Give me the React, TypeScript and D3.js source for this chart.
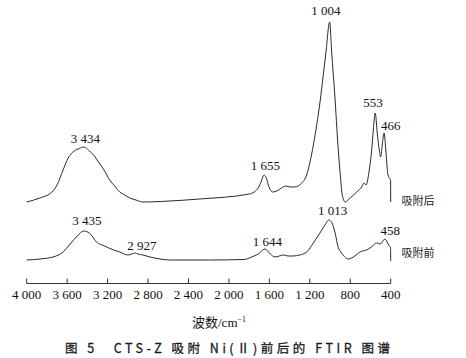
import React from "react";
import * as d3 from "d3";

// Wavenumber (cm^-1) and relative intensity (a.u., offset stacked)
const afterWn = [4000,3870,3750,3700,3640,3590,3530,3480,3434,3400,3370,3330,3290,3235,3180,3130,3080,3030,2980,2920,2850,2680,2290,1800,1750,1705,1675,1655,1630,1610,1590,1565,1527,1495,1465,1435,1396,1350,1280,1231,1198,1165,1132,1099,1067,1040,1004,984,951,924,901,879,850,802,736,687,664,644,612,588,572,553,533,513,499,486,466,446,430,414,401,400];
const afterVal = [0.82,0.86,0.92,0.99,1.14,1.26,1.33,1.355,1.37,1.35,1.32,1.28,1.22,1.14,1.04,0.98,0.92,0.89,0.86,0.84,0.82,0.825,0.85,0.90,0.92,0.97,1.04,1.09,1.06,0.99,0.94,0.92,0.93,0.95,0.97,0.98,0.97,0.97,1.01,1.09,1.22,1.39,1.59,1.82,2.09,2.32,2.62,2.32,1.86,1.42,1.12,0.89,0.82,0.86,0.92,0.97,1.01,0.99,1.14,1.34,1.54,1.71,1.51,1.34,1.27,1.37,1.51,1.31,1.11,1.06,1.04,0.82];

const beforeWn = [4000,3870,3740,3640,3570,3500,3435,3370,3310,3230,3140,3080,3000,2960,2927,2900,2850,2780,2680,2580,2200,1850,1775,1710,1644,1590,1545,1460,1415,1365,1300,1230,1165,1100,1050,1013,980,950,920,885,820,755,705,640,590,540,505,458,435,415,402,400];
const beforeVal = [0.24,0.25,0.27,0.32,0.40,0.48,0.53,0.50,0.42,0.38,0.34,0.32,0.29,0.30,0.31,0.30,0.29,0.27,0.25,0.24,0.24,0.245,0.27,0.30,0.35,0.30,0.27,0.29,0.28,0.28,0.29,0.32,0.41,0.51,0.59,0.64,0.61,0.51,0.37,0.31,0.25,0.28,0.32,0.34,0.37,0.41,0.40,0.45,0.42,0.38,0.37,0.23];

const tickValues = [4000,3600,3200,2800,2400,2000,1600,1200,800,400];

// peak annotations: [label, wavenumber-anchor, intensity-anchor]
const peakLabels = ["3 434","1 655","1 004","553","466","3 435","2 927","1 644","1 013","458"];
const peakWn = [3420,1640,1040,575,400,3405,2860,1620,975,405];
const peakVal = [1.41,1.14,2.69,1.77,1.54,0.59,0.34,0.38,0.69,0.49];

const seriesNames = ["吸附后","吸附前"];
const seriesLabelVal = [0.79,0.27];

const caption = "图 5　CTS-Z 吸附 Ni(Ⅱ)前后的 FTIR 图谱";

const W = 466, H = 358;

export default function App() {
  const x = d3.scaleLinear().domain([4000, 400]).range([26.7, 390.7]);
  const y = d3.scaleLinear().domain([0, 2.7]).range([284, 14]);
  const line = d3.line<[number, number]>()
    .x(d => x(d[0]))
    .y(d => y(d[1]))
    .curve(d3.curveMonotoneX);
  const after = afterWn.map((w, i) => [w, afterVal[i]] as [number, number]);
  const before = beforeWn.map((w, i) => [w, beforeVal[i]] as [number, number]);
  const axisY = 283.5;
  const fmt = (v: number) => d3.format(",")(v).replace(",", " ");
  const serif = "Liberation Serif, Times New Roman, serif";
  const cjk = "Noto Sans CJK SC, sans-serif";
  return (
    <svg width={W} height={H} style={{ position: "absolute", left: 0, top: 0, background: "#fff" }}>
      <rect width={W} height={H} fill="#fff" />
      <path d={line(after) || ""} fill="none" stroke="#2a2a2a" strokeWidth={1} />
      <path d={line(before) || ""} fill="none" stroke="#2a2a2a" strokeWidth={1} />
      {peakLabels.map((t, i) => (
        <text key={t} x={x(peakWn[i])} y={y(peakVal[i])} textAnchor="middle"
          fontFamily={serif} fontSize={13} fill="#111">{t}</text>
      ))}
      {seriesNames.map((t, i) => (
        <text key={t} x={401.5} y={y(seriesLabelVal[i])} fontFamily={cjk} fontSize={11} fill="#222">{t}</text>
      ))}
      <line x1={x(4000)} x2={x(400)} y1={axisY} y2={axisY} stroke="#333" strokeWidth={1} />
      {tickValues.map(v => (
        <g key={v}>
          <line x1={x(v)} x2={x(v)} y1={axisY} y2={axisY - 5} stroke="#333" strokeWidth={1} />
          <text x={x(v)} y={299} textAnchor="middle" fontFamily={serif} fontSize={13} fill="#111">{fmt(v)}</text>
        </g>
      ))}
      <text x={219} y={326.5} textAnchor="middle" fill="#111">
        <tspan fontFamily={cjk} fontSize={13}>波数</tspan>
        <tspan fontFamily={serif} fontSize={13}>/cm</tspan>
        <tspan fontFamily={serif} fontSize={8} dy={-5}>−1</tspan>
      </text>
      <text x={65} y={352.5} fontFamily={cjk} fontSize={12.5} fill="#1a1a1a" stroke="#1a1a1a" strokeWidth={0.3}
        textLength={325} lengthAdjust="spacing">{caption}</text>
    </svg>
  );
}
